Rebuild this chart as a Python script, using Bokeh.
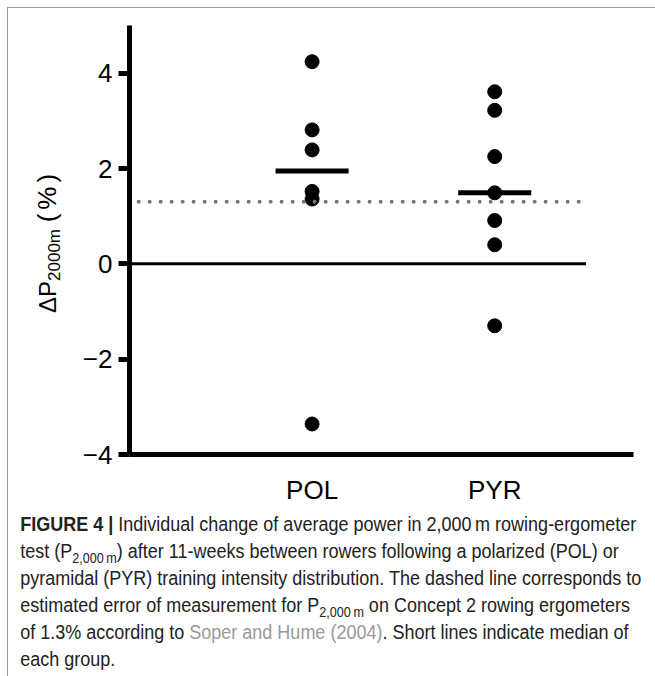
from bokeh.plotting import figure
from bokeh.models import Range1d, FixedTicker, Div
from bokeh.layouts import column, row
from bokeh.embed import file_html
from bokeh.resources import INLINE

# ---- data ----
groups = ["POL", "PYR"]
pol_values = [4.24, 2.81, 2.39, 1.52, 1.36, -3.36]
pyr_values = [3.61, 3.22, 2.25, 1.49, 0.91, 0.40, -1.30]
medians = [1.95, 1.49]
measurement_error = 1.3
y_ticks = [-4, -2, 0, 2, 4]

FONT = "Liberation Sans"
LABEL_W = 62

p = figure(width=647 - LABEL_W, height=500, output_backend="svg", toolbar_location=None,
           x_range=Range1d(0, 2.76), y_range=Range1d(-4, 5),
           min_border_left=59, min_border_right=22, min_border_top=17,
           min_border_bottom=54)
p.outline_line_color = None
p.grid.visible = False
p.background_fill_color = "white"
p.border_fill_color = "white"

positions = [i + 1 for i in range(len(groups))]

# axes
p.xaxis.ticker = FixedTicker(ticks=positions)
p.xaxis.major_label_overrides = {pos: g for pos, g in zip(positions, groups)}
p.xaxis.axis_line_width = 5
p.xaxis.major_tick_out = 0
p.xaxis.major_tick_in = 0
p.xaxis.minor_tick_out = 0
p.xaxis.minor_tick_in = 0
p.xaxis.major_label_standoff = 20
p.xaxis.major_label_text_font = FONT
p.xaxis.major_label_text_font_size = "26px"
p.xaxis.major_label_text_color = "black"

p.yaxis.ticker = FixedTicker(ticks=y_ticks)
p.yaxis.major_label_overrides = {t: (str(t).replace("-", "\u2212")) for t in y_ticks}
p.yaxis.axis_line_width = 5
p.yaxis.major_tick_out = 11
p.yaxis.major_tick_in = 0
p.yaxis.major_tick_line_width = 5
p.yaxis.minor_tick_out = 0
p.yaxis.minor_tick_in = 0
p.yaxis.major_label_standoff = 6
p.yaxis.major_label_text_font = FONT
p.yaxis.major_label_text_font_size = "26px"
p.yaxis.major_label_text_color = "black"

# zero line
p.segment(x0=[0], y0=[0], x1=[2.5], y1=[0], line_color="black", line_width=3)

# points
for pos, vals in zip(positions, [pol_values, pyr_values]):
    p.scatter(x=[pos] * len(vals), y=vals, size=14, color="black")

# dotted measurement-error line
p.segment(x0=[0.05], y0=[measurement_error], x1=[2.46], y1=[measurement_error],
          line_color="#777777", line_width=4, line_dash="0 11", line_cap="round")

# median lines
p.segment(x0=[pos - 0.2 for pos in positions], y0=medians,
          x1=[pos + 0.2 for pos in positions], y1=medians,
          line_color="black", line_width=5)

# y-axis title as rotated HTML text (ΔP with subscript 2000m, then (%))
ylabel_html = (
    "<div style=\"position:relative;left:27px;top:305px;transform-origin:0 0;"
    "transform:rotate(-90deg);white-space:nowrap;width:max-content;"
    "font-family:'Liberation Sans',sans-serif;font-size:24px;line-height:24px;color:black;\">"
    "\u0394P<span style='font-size:17px;position:relative;top:4px;'>2000m</span>"
    " <span style='font-size:26px;letter-spacing:4px;'>(%)</span>"
    "</div>"
)
ylabel = Div(text=ylabel_html, width=LABEL_W, height=500, margin=0)

SUB = "<span style='font-size:70%;position:relative;top:0.35em;line-height:0;'>2,000\u2009m</span>"
caption_html = (
    "<div style=\"font-family:'Liberation Sans',sans-serif;"
    "font-size:20px;line-height:27px;color:#222;white-space:nowrap;position:relative;top:-2px;"
    "transform:scaleX(0.9);transform-origin:0 0;padding:0 0 0 8px;\">"
    "<b>FIGURE 4 |</b> Individual change of average power in 2,000\u2009m rowing-ergometer<br>"
    "test (P" + SUB + ") after 11-weeks between rowers following a polarized (POL) or<br>"
    "pyramidal (PYR) training intensity distribution. The dashed line corresponds to<br>"
    "estimated error of measurement for P" + SUB + " on Concept 2 rowing ergometers<br>"
    "of 1.3% according to <span style='color:#999;'>Soper and Hume (2004)</span>. Short lines indicate median of<br>"
    "each group."
    "</div>"
)
caption = Div(text=caption_html, width=647, height=158)

layout = column(row(ylabel, p, spacing=0), caption, spacing=0,
                styles={"margin": "7px 0 0 7px",
                        "border-top": "1px solid #999",
                        "border-left": "1px solid #999"})

open("out.html", "w").write(file_html(layout, INLINE))
